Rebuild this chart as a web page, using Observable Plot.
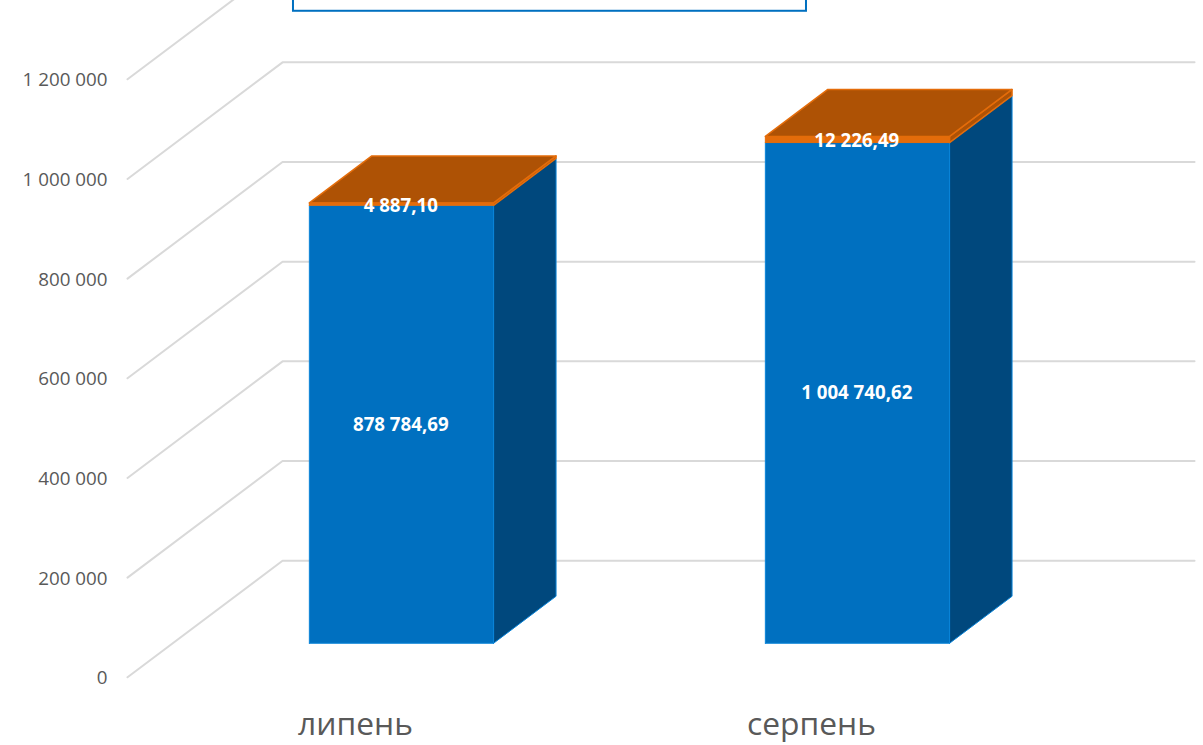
<!DOCTYPE html>
<html><head><meta charset="utf-8">
<style>html,body{margin:0;padding:0;background:#fff;overflow:hidden}svg{display:block}</style>
<script src="https://cdn.jsdelivr.net/npm/d3@7"></script>
<script src="https://cdn.jsdelivr.net/npm/@observablehq/plot@0.6"></script>
</head><body><div id="chart"></div>
<script>
const months = ["липень", "серпень"];
const blueValues = [878784.69, 1004740.62];
const orangeValues = [4887.10, 12226.49];
const yTicks = [0, 200000, 400000, 600000, 800000, 1000000, 1200000];

// Oblique 3D projection, expressed in the scales' own units
const DEPTH_X = 0.34, DEPTH_Y = 234000;
const FRONT = 0.292, BACK = 0.695, BAR0 = 0.2995, BAR1 = 0.7035;
const P = (x, y, d) => ({x: x + d * DEPTH_X, y: y + d * DEPTH_Y});
const loc = d3.formatLocale({thousands: " ", grouping: [3], decimal: ",", currency: ["", ""]});
const fmtTick = loc.format(",.0f"), fmtVal = loc.format(",.2f");

function faces(lows, highs) {
  const front = [], side = [], top = [];
  months.forEach((m, i) => {
    const x0 = i + BAR0, x1 = i + BAR1, a = lows[i], b = highs[i];
    front.push(...[[x0,a],[x1,a],[x1,b],[x0,b],[x0,a]].map(([x,y]) => ({...P(x,y,FRONT), k:m})));
    side.push(...[[x1,a,FRONT],[x1,a,BACK],[x1,b,BACK],[x1,b,FRONT],[x1,a,FRONT]].map(([x,y,d]) => ({...P(x,y,d), k:m})));
    top.push(...[[x0,FRONT],[x1,FRONT],[x1,BACK],[x0,BACK],[x0,FRONT]].map(([x,d]) => ({...P(x,b,d), k:m})));
  });
  return {front, side, top};
}
const zeros = months.map(() => 0);
const totals = blueValues.map((v, i) => v + orangeValues[i]);
const blue = faces(zeros, blueValues);
const orange = faces(blueValues, totals);

const poly = (data, fill, stroke, sw = 1) =>
  Plot.line(data, {x: "x", y: "y", z: "k", fill, stroke, strokeWidth: sw, curve: "linear", strokeLinejoin: "round"});

const grid = yTicks.flatMap(v => [P(0, v, 0), P(0, v, 1), P(2, v, 1)].map(p => ({...p, k: v})));
const labels = months.flatMap((m, i) => [
  {...P(i + 0.5, blueValues[i] / 2, FRONT), t: fmtVal(blueValues[i])},
  {...P(i + 0.5, blueValues[i] + orangeValues[i] / 2 - 3000, FRONT), t: fmtVal(orangeValues[i])}
]);

const chart = Plot.plot({
  width: 1203, height: 745,
  marginLeft: 127, marginRight: 0, marginTop: 0, marginBottom: 34,
  style: {background: "#fff", fontFamily: "'Open Sans', sans-serif"},
  x: {domain: [0, 2], range: [127, 1039], label: null},
  y: {domain: [0, 1200000], range: [676.8, 78.8], label: null},
  marks: [
    Plot.line(grid, {x: "x", y: "y", z: "k", stroke: "#D9D9D9", strokeWidth: 2, curve: "linear"}),
    Plot.rect([{x1: 0.364, x2: 1.489, y1: 1336500, y2: 1500000}],
      {x1: "x1", x2: "x2", y1: "y1", y2: "y2", fill: "#fff", stroke: "#0070C0", strokeWidth: 2}),
    poly(blue.side, "#00487D", "#0A84D8"),
    poly(blue.front, "#0070C0", "#0A84D8"),
    poly(orange.side, "#AE5205", "#E46C0A", 1.5),
    poly(orange.top, "#AE5205", "#E46C0A", 1.5),
    poly(orange.front, "#E46C0A", "#E46C0A"),
    Plot.axisY({ticks: yTicks, tickSize: 0, tickPadding: 20, tickFormat: fmtTick, fontSize: 18.8, dy: 1, fill: "#595959", label: null}),
    Plot.axisX({ticks: [0.5, 1.5], tickSize: 0, tickPadding: 1, tickFormat: v => months[Math.floor(v)], fontSize: 31.8, fill: "#595959", label: null}),
    Plot.text(labels, {x: "x", y: "y", text: "t", fill: "#fff", fontWeight: 700, fontSize: 18.7, dy: 0.5})
  ]
});
document.getElementById("chart").append(chart);
</script></body></html>
